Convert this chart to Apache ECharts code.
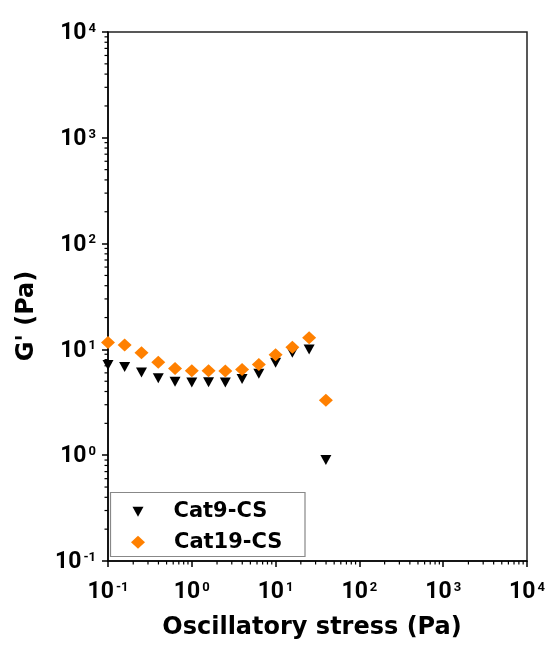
<!DOCTYPE html>
<html>
<head>
<meta charset="utf-8">
<script src="https://cdn.jsdelivr.net/npm/echarts@6/dist/echarts.min.js"></script>
<style>
  html, body { margin: 0; padding: 0; background: #fff; }
  #chart { width: 554px; height: 650px; }
</style>
</head>
<body>
<div id="chart"></div>
<script>
// Oscillatory stress sweep (Pa) and storage modulus G' (Pa)
const stress = [0.1, 0.158, 0.251, 0.398, 0.631, 1, 1.585, 2.512, 3.981, 6.31, 10, 15.85, 25.12, 39.81];
const cat9 = [7.12, 6.82, 6.05, 5.33, 4.95, 4.87, 4.89, 4.87, 5.25, 5.89, 7.48, 9.31, 10.0, 0.90];
const cat19 = [11.6, 11.0, 9.3, 7.55, 6.6, 6.3, 6.3, 6.25, 6.45, 7.2, 8.9, 10.5, 12.9, 3.3];
const seriesNames = ['Cat9-CS', 'Cat19-CS'];
const xRange = [0.1, 10000];
const yRange = [0.1, 10000];

// minor tick values (2..9 within each decade)
function minorValues(lo, hi) {
  const out = [];
  for (let d = lo; d < hi; d *= 10) {
    for (let m = 2; m <= 9; m++) out.push(+(m * d).toPrecision(3));
  }
  return out;
}
const minorX = minorValues(xRange[0], xRange[1]);
const minorY = minorValues(yRange[0], yRange[1]);

const tickFont = 'Roboto';
const titleFont = '"DejaVu Sans", sans-serif';

function powerLabel(v) {
  const e = Math.round(Math.log10(v));
  return '{b|10}{s|' + e + '}';
}
const powerRich = {
  b: { fontFamily: tickFont, fontWeight: 'bold', fontSize: 23, color: '#000', lineHeight: 28, verticalAlign: 'top' },
  s: { fontFamily: tickFont, fontWeight: 'bold', fontSize: 13, color: '#000', lineHeight: 14, verticalAlign: 'top', padding: [0, 0, 0, 2] }
};

const legendText = {
  fontFamily: titleFont, fontWeight: 'bold', fontSize: 21, color: '#000', lineHeight: 22,
  rich: { g: { width: 25 } }
};

const chart = echarts.init(document.getElementById('chart'), null, { renderer: 'canvas' });

const option = {
  animation: false,
  backgroundColor: '#fff',
  grid: {
    left: 108, right: 27, top: 32, bottom: 89,
    show: true, borderColor: '#222', borderWidth: 1.5, backgroundColor: 'transparent'
  },
  xAxis: {
    type: 'log', logBase: 10, min: xRange[0], max: xRange[1],
    axisLine: { show: true, onZero: false, lineStyle: { color: '#000', width: 1.5 } },
    axisTick: { show: true, inside: false, length: 6, lineStyle: { color: '#000', width: 1.5 } },
    splitLine: { show: false },
    axisLabel: { margin: 20, fontFamily: tickFont, fontWeight: 'bold', formatter: powerLabel, rich: powerRich }
  },
  yAxis: {
    type: 'log', logBase: 10, min: yRange[0], max: yRange[1],
    axisLine: { show: true, onZero: false, lineStyle: { color: '#000', width: 1.5 } },
    axisTick: { show: true, inside: false, length: 6, lineStyle: { color: '#000', width: 1.5 } },
    splitLine: { show: false },
    axisLabel: { margin: 12, padding: [8, 0, 0, 0], fontFamily: tickFont, fontWeight: 'bold', formatter: powerLabel, rich: powerRich }
  },
  legend: [
    {
      data: [seriesNames[0]], orient: 'vertical', left: 132.5, top: 500.7, padding: 0,
      itemWidth: 11, itemHeight: 10, z: 5,
      formatter: name => '{g|}' + name,
      textStyle: legendText
    },
    {
      data: [seriesNames[1]], orient: 'vertical', left: 131, top: 531.3, padding: 0,
      itemWidth: 14, itemHeight: 13, z: 5,
      formatter: name => '{g|}' + name,
      textStyle: Object.assign({}, legendText, { rich: { g: { width: 24 } } })
    }
  ],
  graphic: [
    {
      type: 'rect', z: 1,
      shape: { x: 110.5, y: 492.5, width: 194.5, height: 64 },
      style: { fill: '#fff', stroke: '#888', lineWidth: 1.2 }
    },
    {
      type: 'text', z: 5, x: 26.5, y: 316, rotation: Math.PI / 2,
      style: {
        text: "G' (Pa)", fontFamily: titleFont, fontWeight: 'bold', fontSize: 24,
        fill: '#000', align: 'center', verticalAlign: 'middle'
      }
    },
    {
      type: 'text', z: 5, x: 312, y: 628,
      style: {
        text: 'Oscillatory stress (Pa)', fontFamily: titleFont, fontWeight: 'bold', fontSize: 24,
        fill: '#000', align: 'center', verticalAlign: 'middle'
      }
    }
  ],
  series: [
    {
      name: seriesNames[0], type: 'scatter', z: 3,
      symbol: 'path://M0,0 L10,0 L5,9 Z', symbolSize: [11, 10],
      itemStyle: { color: '#000', opacity: 1 },
      data: stress.map((x, i) => [x, cat9[i]])
    },
    {
      name: seriesNames[1], type: 'scatter', z: 4,
      symbol: 'diamond', symbolSize: [14, 13],
      itemStyle: { color: '#FF8000', opacity: 1 },
      data: stress.map((x, i) => [x, cat19[i]])
    },
    {
      // minor ticks along the bottom axis
      type: 'custom', silent: true, clip: false, z: 2,
      data: minorX.map(v => [v, yRange[0]]),
      renderItem: function (params, api) {
        const p = api.coord([api.value(0), yRange[0]]);
        return {
          type: 'line',
          shape: { x1: p[0], y1: p[1], x2: p[0], y2: p[1] + 3.5 },
          style: { stroke: '#000', lineWidth: 1.2 }
        };
      }
    },
    {
      // minor ticks along the left axis
      type: 'custom', silent: true, clip: false, z: 2,
      data: minorY.map(v => [xRange[0], v]),
      renderItem: function (params, api) {
        const p = api.coord([xRange[0], api.value(1)]);
        return {
          type: 'line',
          shape: { x1: p[0] - 3.5, y1: p[1], x2: p[0], y2: p[1] },
          style: { stroke: '#000', lineWidth: 1.2 }
        };
      }
    }
  ]
};

chart.setOption(option);
</script>
</body>
</html>
